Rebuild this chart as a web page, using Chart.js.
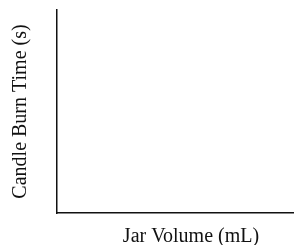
<!DOCTYPE html>
<html>
<head>
<meta charset="utf-8">
<script src="https://cdn.jsdelivr.net/npm/chart.js@4/dist/chart.umd.min.js"></script>
<style>
  html, body { margin: 0; padding: 0; background: #fff; overflow: hidden; }
  #wrap { width: 325px; height: 245px; }
</style>
</head>
<body>
<div id="wrap"><canvas id="mycanvas"></canvas></div>
<script>
// the reference is a blank graph: axes and titles only, no data plotted
var jarVolumes = [];
var burnTimes = [];
var xTitle = 'Jar Volume (mL)';
var yTitle = 'Candle Burn Time (s)';

var points = [];
for (var i in jarVolumes) {
  points.push({x: jarVolumes[i], y: burnTimes[i]});
}

var ctx = document.getElementById('mycanvas');
new Chart(ctx, {
  type: 'scatter',
  data: {
    datasets: [{ data: points, pointRadius: 3, backgroundColor: '#000' }]
  },
  options: {
    responsive: true,
    maintainAspectRatio: false,
    animation: false,
    layout: { padding: { left: 9, top: 10, right: 0, bottom: 0 } },
    plugins: { legend: { display: false }, tooltip: { enabled: false } },
    scales: {
      x: {
        min: 0, max: 1,
        ticks: { display: false },
        grid: { display: false },
        border: { color: '#111', width: 1.5 },
        title: {
          display: true, text: xTitle, color: '#111',
          font: { family: 'Liberation Serif', size: 20 },
          padding: { top: 4, bottom: -4 }
        }
      },
      y: {
        min: 0, max: 1,
        ticks: { display: false },
        grid: { display: false },
        border: { color: '#111', width: 1.5 },
        title: {
          display: true, text: yTitle, color: '#111',
          font: { family: 'Liberation Serif', size: 20 },
          padding: { top: 0, bottom: 16 }
        }
      }
    }
  }
});
</script>
</body>
</html>
